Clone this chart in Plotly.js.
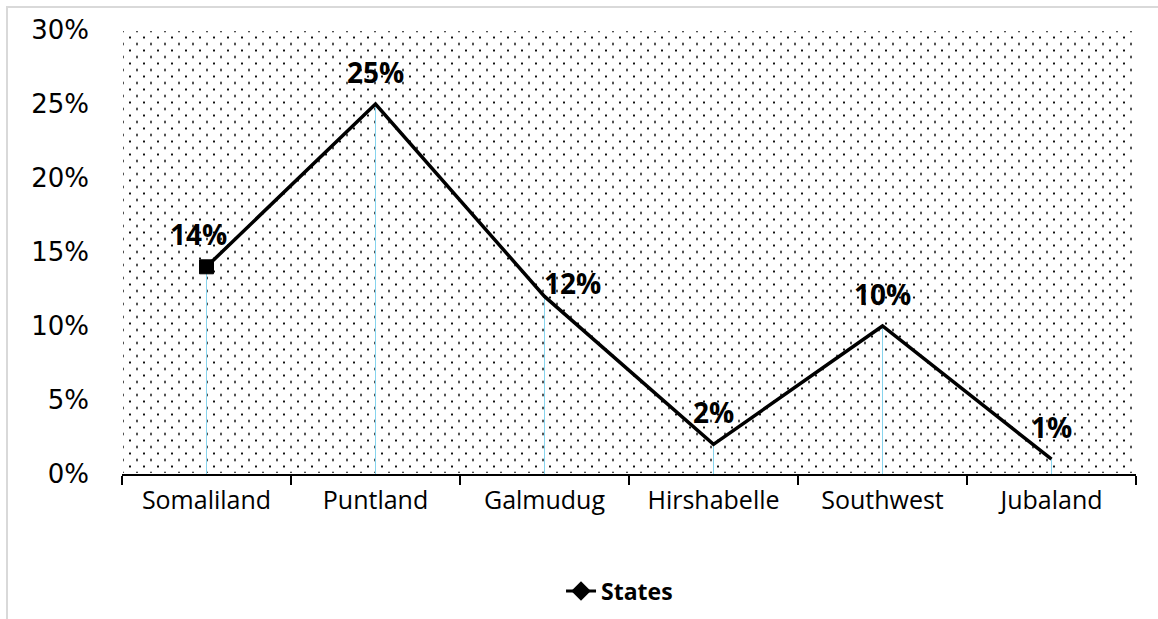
<!DOCTYPE html>
<html>
<head>
<meta charset="utf-8">
<script src="https://cdn.plot.ly/plotly-3.0.1.min.js"></script>
<style>
html,body{margin:0;padding:0;background:#fff;}
#wrap{position:relative;width:1158px;height:619px;overflow:hidden;}
#dots{position:absolute;left:123px;top:31px;width:1012px;height:442px;
  background-image:radial-gradient(circle, #111 0.9px, rgba(0,0,0,0) 1.3px),
                   radial-gradient(circle, #111 0.9px, rgba(0,0,0,0) 1.3px);
  background-size:14px 13px, 14px 13px;
  background-position:0px 0px, 7px 6.5px;}
#frame{position:absolute;left:6px;top:6px;width:1160px;height:620px;border-left:2px solid #d9d9d9;border-top:2px solid #d9d9d9;box-sizing:border-box;pointer-events:none;}
#chart{position:absolute;left:0;top:0;width:1158px;height:619px;}
</style>
</head>
<body>
<div id="wrap">
<div id="dots"></div>
<div id="chart"></div>
<div id="frame"></div>
</div>
<script>
var categories = ["Somaliland", "Puntland", "Galmudug", "Hirshabelle", "Southwest", "Jubaland"];
var values = [0.14, 0.25, 0.12, 0.02, 0.10, 0.01];
var seriesName = "States";
var yTickVals = [0, 0.05, 0.10, 0.15, 0.20, 0.25, 0.30];

var labelFont = {family: "Open Sans", size: 28, color: "#000", weight: "bold"};

var dropLines = {
  x: categories, y: values,
  mode: "none",
  error_y: {type: "data", symmetric: false,
            array: values.map(function(){ return 0; }),
            arrayminus: values, width: 0, thickness: 1, color: "#86d4ee"},
  hoverinfo: "skip", showlegend: false
};

var main = {
  x: categories, y: values,
  mode: "lines+markers",
  line: {color: "#000", width: 3.5},
  marker: {symbol: "square", color: "#000", opacity: 1,
           line: {color: "#000", width: 1},
           size: values.map(function(v, i){ return i === 0 ? 14 : 0; })},
  showlegend: false
};

var legendTrace = {
  x: [null], y: [null], name: seriesName,
  mode: "lines+markers",
  line: {color: "#000", width: 3},
  marker: {symbol: "diamond", size: 15, color: "#000"}
};

var annotations = values.map(function(v, i){
  var right = (i === 2);
  return {
    x: categories[i], y: v, xref: "x", yref: "y",
    text: Math.round(v * 100) + "%",
    showarrow: false,
    xanchor: right ? "left" : "center",
    yanchor: "bottom",
    xshift: right ? -3 : (i === 0 ? -8 : 0),
    yshift: right ? -8 : (i === 0 ? 12 : 11),
    font: labelFont
  };
});

var layout = {
  width: 1158, height: 619,
  margin: {l: 122, r: 22, t: 30, b: 145},
  paper_bgcolor: "rgba(0,0,0,0)", plot_bgcolor: "rgba(0,0,0,0)",
  showlegend: true,
  legend: {orientation: "h", xref: "container", yref: "container",
           x: 0.535, xanchor: "center", y: 0.045, yanchor: "middle",
           font: {family: "Open Sans", size: 23, color: "#000", weight: "bold"}},
  xaxis: {type: "category", range: [-0.5, 5.5], showgrid: false, zeroline: false,
          automargin: false,
          showline: true, linecolor: "#000", linewidth: 1.5,
          ticks: "outside", tickson: "boundaries", ticklen: 9, tickcolor: "#000", tickwidth: 1.5,
          ticklabelstandoff: 3,
          tickfont: {family: "Open Sans", size: 25, color: "#000"}, fixedrange: true},
  yaxis: {range: [0, 0.3], tickvals: yTickVals, tickformat: ".0%",
          automargin: false,
          showgrid: false, zeroline: false, showline: false, ticks: "",
          ticklabelstandoff: 32,
          tickfont: {family: "DejaVu Sans", size: 26, color: "#000"}, fixedrange: true},
  annotations: annotations
};

Plotly.newPlot("chart", [dropLines, main, legendTrace], layout, {displayModeBar: false, staticPlot: true});
</script>
</body>
</html>
